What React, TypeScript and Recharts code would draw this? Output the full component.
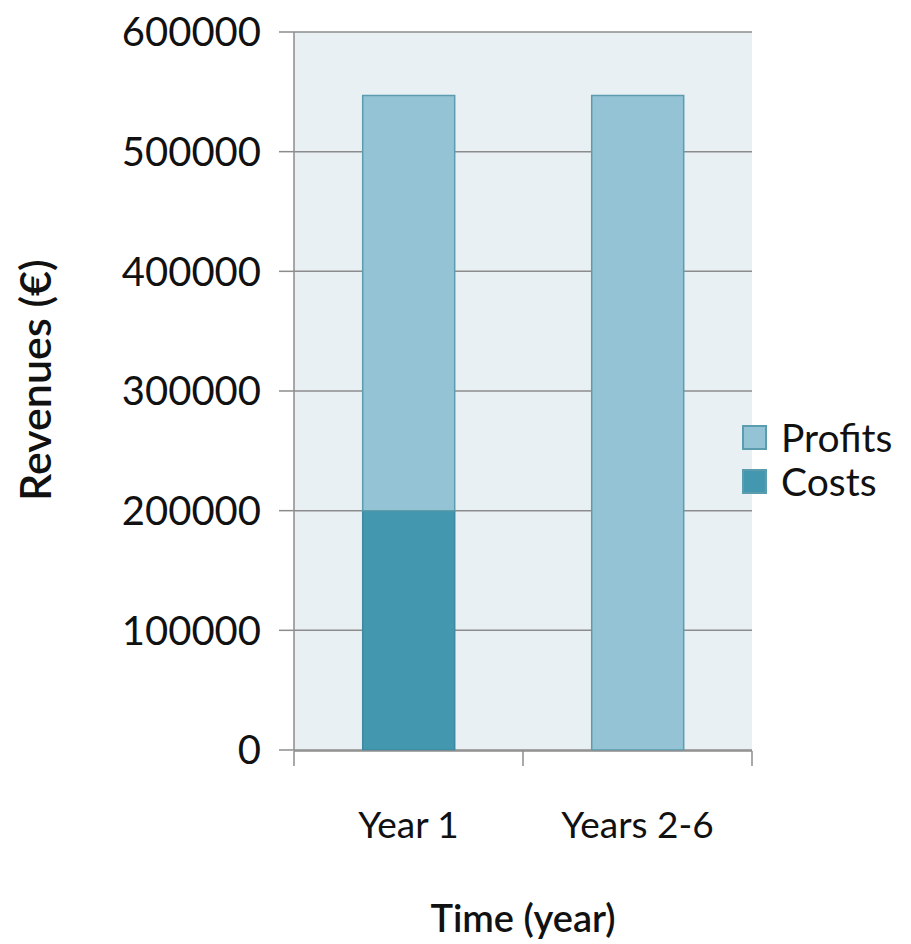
import { BarChart, Bar, XAxis, YAxis, CartesianGrid, Legend } from 'recharts';

const periods = ['Year 1', 'Years 2-6'];
const costs = [200000, 0];
const profits = [347000, 547000];
const yTicks = [0, 100000, 200000, 300000, 400000, 500000, 600000];
const boundaryTicks = [0, 1, 2];

const data = periods.map((p, i) => ({ period: p, Costs: costs[i], Profits: profits[i], pos: i + 0.5 }));

const FONT = 'Lato, "Open Sans", sans-serif';

const LegendBox = ({ payload }: any) => {
  const items = [...(payload || [])].reverse();
  return (
    <div style={{ fontFamily: FONT, fontSize: 39, lineHeight: '44px', color: '#111' }}>
      {items.map((it: any) => (
        <div key={it.value} style={{ display: 'flex', alignItems: 'center', height: 44 }}>
          <span
            style={{
              width: 25,
              height: 25,
              background: it.color,
              border: '2px solid #5b9cae',
              boxSizing: 'border-box',
              marginRight: 14,
              display: 'inline-block',
            }}
          />
          {it.value}
        </div>
      ))}
    </div>
  );
};

export default function App() {
  return (
    <div style={{ position: 'absolute', left: 0, top: 0, background: '#fff' }}>
      <BarChart
        width={911}
        height={944}
        data={data}
        margin={{ top: 32, right: 0, left: 0, bottom: 0 }}
        barCategoryGap="30%"
      >
        <CartesianGrid vertical={false} stroke="#8c8c8c" strokeWidth={1.5} fill="#e8f0f4" />
        <XAxis
          dataKey="period"
          tickLine={false}
          axisLine={false}
          height={1}
          tick={{ fontFamily: FONT, fontSize: 37, fill: '#111', dy: 54 }}
        />
        <XAxis
          xAxisId="edges"
          type="number"
          dataKey="pos"
          domain={[0, 2]}
          ticks={boundaryTicks}
          tickFormatter={() => ''}
          tickSize={15}
          height={193}
          stroke="#8c8c8c"
          strokeWidth={1.5}
          label={{ value: 'Time (year)', position: 'insideBottom', offset: 12, fontFamily: FONT, fontSize: 38, fontWeight: 600, fill: '#111' }}
        />
        <YAxis
          width={294}
          domain={[0, 600000]}
          ticks={yTicks}
          tickSize={15}
          stroke="#8c8c8c"
          strokeWidth={1.5}
          tick={{ fontFamily: FONT, fontSize: 40, fill: '#111', dx: -16 }}
          label={{ value: 'Revenues (€)', angle: -90, position: 'insideLeft', offset: 36, fontFamily: FONT, fontSize: 43, fontWeight: 600, fill: '#111', dy: 110 }}
        />
        <Legend
          layout="vertical"
          verticalAlign="top"
          align="right"
          content={<LegendBox />}
          wrapperStyle={{ left: 742, top: 415, width: 159 }}
        />
        <Bar dataKey="Costs" stackId="a" fill="#4398b0" stroke="#3b8aa1" strokeWidth={1.5} isAnimationActive={false} />
        <Bar dataKey="Profits" stackId="a" fill="#93c3d5" stroke="#5b9cae" strokeWidth={1.5} isAnimationActive={false} />
      </BarChart>
    </div>
  );
}
